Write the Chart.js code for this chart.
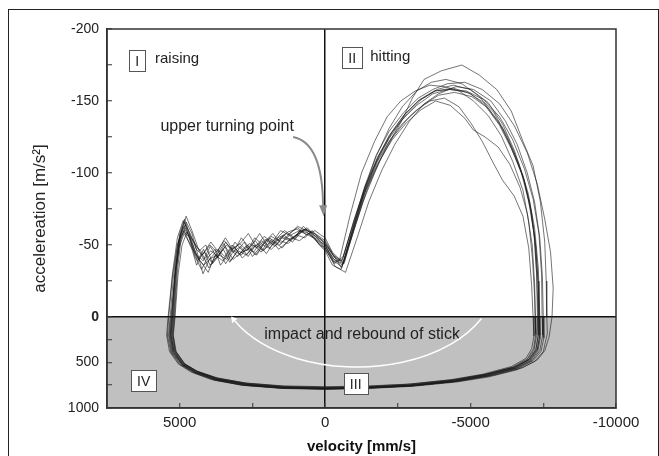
<!DOCTYPE html>
<html lang="en">
<head>
<meta charset="UTF-8" />
<title>Stick acceleration over velocity</title>
<script src="https://cdn.jsdelivr.net/npm/chart.js"></script>
<style>
  body { margin: 0; background: #fff; }
  .wrap { position: relative; width: 659px; height: 456px; overflow: hidden; }
  .frame { position: absolute; left: 8px; top: 9px; width: 649px; height: 470px; border: 1px solid #222; border-bottom: none; pointer-events: none; }
  canvas { position: absolute; left: 0; top: 0; }
</style>
</head>
<body>
<div class="wrap">
  <canvas id="loopChart" width="659" height="456"></canvas>
  <div class="frame"></div>
</div>
<script>
  // axis ticks (acceleration axis is broken at 0)
  const yMajorTicks = [-200, -150, -100, -50, 0, 500, 1000];
  const yMinorTicks = [-175, -125, -75, -25, 250, 750];
  const xMajorTicks = [5000, 0, -5000, -10000];
  const xMinorTicks = [2500, -2500, -7500];

  const phaseTags = ['I', 'II', 'III', 'IV'];
  const phaseNames = ['raising', 'hitting'];
  const noteTurning = 'upper turning point';
  const noteImpact = 'impact and rebound of stick';

  // one loop per stroke: [velocity mm/s, acceleration m/s^2]
  const loop01 = [[0,-50],[-300,-38],[-600,-40],[-1000,-68],[-1400,-92],[-1800,-110],[-2200,-126],[-2700,-140],[-3200,-150],[-3800,-157],[-4400,-159],[-5000,-155],[-5500,-147],[-6000,-133],[-6400,-117],[-6800,-98],[-7050,-78],[-7200,-55],[-7280,-28],[-7320,0],[-7330,200],[-7250,360],[-7000,470],[-6500,560],[-5500,640],[-4500,700],[-3000,750],[-1500,772],[0,780],[1500,770],[2800,735],[3800,680],[4500,600],[4900,520],[5200,380],[5300,200],[5250,0],[5150,-30],[5000,-52],[4800,-62],[4550,-50],[4350,-40],[4150,-45],[3900,-38],[3650,-46],[3450,-42],[3200,-50],[2950,-44],[2650,-47],[2400,-53],[2150,-46],[1850,-51],[1500,-55],[1200,-53],[900,-59],[600,-61],[350,-56],[150,-52],[0,-50]];
  const loop02 = [[0,-46],[-250,-36],[-550,-33],[-900,-55],[-1300,-80],[-1700,-100],[-2100,-118],[-2600,-135],[-3000,-152],[-3400,-165],[-4000,-171],[-4700,-175],[-5300,-168],[-5900,-158],[-6400,-143],[-6800,-122],[-7150,-105],[-7400,-80],[-7550,-52],[-7600,-25],[-7620,0],[-7640,180],[-7500,380],[-7200,490],[-6600,580],[-5600,660],[-4500,715],[-3000,762],[-1500,785],[0,795],[1500,785],[2800,752],[3800,695],[4500,615],[5000,520],[5300,390],[5420,210],[5380,0],[5250,-28],[5080,-50],[4900,-60],[4650,-55],[4480,-42],[4250,-33],[4050,-41],[3780,-47],[3600,-36],[3300,-44],[3100,-52],[2800,-45],[2550,-49],[2250,-58],[2000,-50],[1700,-54],[1400,-60],[1050,-55],[750,-63],[450,-57],[200,-50],[0,-46]];
  const loop03 = [[0,-52],[-300,-42],[-650,-37],[-1000,-62],[-1400,-88],[-1800,-108],[-2200,-122],[-2600,-133],[-3100,-143],[-3600,-150],[-4100,-152],[-4600,-146],[-5000,-135],[-5400,-122],[-5780,-107],[-6100,-95],[-6500,-84],[-6800,-70],[-7000,-48],[-7100,-22],[-7150,0],[-7180,210],[-7100,350],[-6900,455],[-6400,545],[-5400,630],[-4300,690],[-2800,740],[-1300,765],[0,772],[1400,762],[2700,728],[3700,670],[4400,595],[4850,510],[5150,370],[5230,190],[5180,0],[5080,-32],[4950,-55],[4780,-66],[4580,-58],[4400,-45],[4200,-30],[3980,-40],[3720,-43],[3480,-51],[3250,-39],[3000,-46],[2700,-43],[2450,-50],[2200,-45],[1900,-55],[1600,-47],[1300,-52],[1000,-57],[700,-55],[450,-60],[200,-55],[0,-52]];
  const loop04 = [[0,-48],[-350,-35],[-700,-31],[-1100,-55],[-1500,-80],[-1950,-102],[-2400,-120],[-2900,-136],[-3400,-148],[-3900,-155],[-4500,-160],[-5100,-158],[-5700,-150],[-6200,-136],[-6600,-120],[-6950,-100],[-7200,-80],[-7380,-55],[-7470,-28],[-7500,0],[-7520,230],[-7420,380],[-7150,480],[-6600,570],[-5600,650],[-4400,712],[-2900,758],[-1400,780],[0,788],[1400,778],[2700,745],[3700,690],[4400,612],[4900,528],[5250,390],[5360,200],[5300,0],[5180,-26],[5030,-48],[4850,-58],[4620,-50],[4420,-36],[4230,-44],[4000,-34],[3800,-40],[3500,-47],[3280,-38],[3050,-45],[2780,-52],[2500,-42],[2260,-48],[2000,-54],[1720,-49],[1420,-57],[1120,-52],[850,-60],[560,-58],[280,-53],[0,-48]];
  const loop05 = [[0,-55],[-250,-45],[-500,-40],[-850,-70],[-1250,-100],[-1700,-122],[-2130,-139],[-2600,-150],[-3100,-157],[-3600,-161],[-4100,-160],[-4600,-157],[-5100,-150],[-5600,-140],[-6050,-126],[-6450,-108],[-6800,-88],[-7000,-66],[-7130,-40],[-7200,-15],[-7220,0],[-7240,190],[-7170,345],[-6950,460],[-6450,550],[-5500,632],[-4400,694],[-2900,745],[-1400,768],[0,775],[1400,766],[2700,732],[3700,676],[4400,598],[4850,515],[5150,375],[5250,195],[5200,0],[5100,-34],[4960,-58],[4780,-70],[4580,-60],[4370,-48],[4180,-40],[3950,-49],[3700,-41],[3420,-52],[3150,-45],[2880,-55],[2600,-48],[2350,-43],[2080,-52],[1800,-58],[1520,-51],[1230,-58],[950,-62],[650,-57],[350,-60],[150,-57],[0,-55]];
  const loop06 = [[0,-49],[-300,-40],[-600,-36],[-950,-60],[-1350,-86],[-1800,-106],[-2300,-123],[-2800,-135],[-3300,-144],[-3800,-150],[-4300,-147],[-4800,-138],[-5090,-130],[-5500,-125],[-5950,-118],[-6350,-106],[-6700,-90],[-6950,-72],[-7120,-50],[-7200,-24],[-7230,0],[-7260,220],[-7180,365],[-6950,470],[-6450,556],[-5450,636],[-4350,698],[-2850,748],[-1350,772],[0,782],[1350,772],[2650,740],[3650,684],[4350,606],[4800,522],[5120,385],[5220,205],[5160,0],[5060,-29],[4920,-50],[4750,-59],[4550,-53],[4330,-46],[4100,-50],[3870,-37],[3640,-43],[3380,-40],[3120,-49],[2850,-41],[2580,-46],[2300,-51],[2020,-44],[1760,-52],[1470,-48],[1180,-55],[880,-53],[580,-58],[300,-54],[120,-51],[0,-49]];
  const loop07 = [[0,-51],[-280,-43],[-580,-39],[-950,-63],[-1350,-90],[-1750,-112],[-2200,-129],[-2700,-142],[-3200,-152],[-3700,-158],[-4200,-162],[-4800,-163],[-5400,-158],[-6000,-148],[-6500,-133],[-6950,-114],[-7300,-92],[-7550,-68],[-7750,-45],[-7840,-20],[-7800,0],[-7700,220],[-7550,370],[-7300,470],[-6800,556],[-5800,640],[-4600,705],[-3100,754],[-1600,778],[0,790],[1500,781],[2900,748],[3900,688],[4600,606],[5050,515],[5350,380],[5450,200],[5400,0],[5250,-30],[5080,-55],[4880,-67],[4650,-57],[4420,-49],[4200,-44],[3930,-52],[3700,-46],[3430,-55],[3180,-47],[2920,-51],[2640,-58],[2380,-49],[2100,-56],[1820,-52],[1530,-60],[1250,-57],[950,-63],[650,-60],[380,-58],[150,-54],[0,-51]];
  const loop08 = [[0,-47],[-320,-37],[-620,-42],[-980,-66],[-1380,-90],[-1800,-111],[-2250,-127],[-2750,-141],[-3250,-151],[-3750,-157],[-4300,-158],[-4900,-156],[-5450,-149],[-5950,-136],[-6350,-120],[-6750,-100],[-7000,-80],[-7180,-58],[-7270,-30],[-7300,0],[-7320,210],[-7240,360],[-7000,468],[-6500,556],[-5500,638],[-4400,700],[-2900,752],[-1400,776],[0,784],[1400,774],[2700,740],[3700,682],[4400,604],[4850,522],[5170,382],[5270,198],[5220,0],[5120,-33],[4990,-57],[4810,-64],[4600,-50],[4390,-39],[4180,-47],[3960,-36],[3700,-42],[3430,-49],[3170,-40],[2930,-44],[2680,-50],[2400,-43],[2130,-50],[1850,-47],[1550,-53],[1270,-51],[980,-57],[690,-60],[400,-55],[180,-50],[0,-47]];
  const loop09 = [[0,-53],[-260,-44],[-560,-34],[-920,-58],[-1320,-85],[-1750,-107],[-2200,-124],[-2650,-137],[-3150,-147],[-3700,-155],[-4250,-158],[-4850,-157],[-5450,-151],[-6000,-139],[-6450,-123],[-6850,-103],[-7150,-82],[-7350,-58],[-7440,-30],[-7460,0],[-7480,200],[-7380,370],[-7120,476],[-6600,562],[-5600,644],[-4500,706],[-3000,756],[-1500,780],[0,790],[1500,780],[2800,748],[3800,690],[4500,610],[4950,524],[5280,388],[5380,205],[5330,0],[5220,-27],[5070,-51],[4890,-63],[4680,-56],[4470,-44],[4260,-38],[4020,-31],[3780,-43],[3520,-39],[3260,-47],[3000,-42],[2730,-49],[2460,-45],[2190,-53],[1900,-48],[1620,-55],[1330,-58],[1030,-54],[740,-61],[450,-59],[200,-56],[0,-53]];
  const loop10 = [[0,-50],[-300,-40],[-620,-37],[-1000,-65],[-1420,-91],[-1850,-112],[-2300,-128],[-2800,-141],[-3300,-151],[-3850,-158],[-4400,-161],[-5000,-158],[-5600,-149],[-6100,-134],[-6500,-116],[-6850,-95],[-7080,-73],[-7230,-50],[-7320,-25],[-7350,0],[-7370,220],[-7290,368],[-7050,472],[-6550,560],[-5550,642],[-4450,703],[-2950,752],[-1450,776],[0,785],[1450,776],[2750,742],[3750,685],[4450,606],[4900,521],[5220,384],[5320,200],[5270,0],[5160,-31],[5020,-54],[4840,-60],[4630,-49],[4410,-43],[4190,-39],[3940,-46],[3680,-42],[3400,-50],[3150,-46],[2880,-43],[2610,-51],[2340,-48],[2060,-54],[1790,-50],[1490,-56],[1200,-54],[900,-58],[620,-62],[330,-56],[130,-52],[0,-50]];
  const loop11 = [[0,-48],[-280,-39],[-580,-35],[-940,-60],[-1340,-88],[-1760,-112],[-2200,-131],[-2650,-146],[-3150,-157],[-3650,-163],[-4150,-165],[-4700,-162],[-5250,-154],[-5800,-142],[-6250,-126],[-6650,-107],[-6980,-86],[-7200,-62],[-7330,-34],[-7380,0],[-7400,230],[-7310,378],[-7070,478],[-6550,564],[-5550,645],[-4450,708],[-2950,758],[-1450,783],[0,792],[1450,783],[2750,750],[3750,692],[4450,612],[4900,526],[5230,390],[5330,208],[5280,0],[5170,-29],[5030,-52],[4850,-66],[4640,-58],[4430,-47],[4220,-43],[3960,-50],[3720,-45],[3470,-53],[3200,-47],[2940,-51],[2680,-46],[2420,-55],[2140,-50],[1860,-56],[1580,-53],[1290,-59],[990,-61],[700,-58],[400,-55],[170,-50],[0,-48]];
  const loop12 = [[0,-51],[-330,-41],[-650,-38],[-1050,-64],[-1450,-89],[-1880,-109],[-2330,-125],[-2850,-138],[-3350,-147],[-3900,-154],[-4450,-156],[-5050,-153],[-5600,-145],[-6100,-131],[-6500,-114],[-6850,-94],[-7100,-72],[-7250,-48],[-7330,-22],[-7360,0],[-7380,200],[-7300,352],[-7060,458],[-6560,546],[-5560,626],[-4460,686],[-2960,736],[-1460,758],[0,766],[1460,757],[2760,724],[3760,668],[4460,592],[4900,510],[5200,372],[5300,192],[5240,0],[5140,-35],[5000,-58],[4830,-68],[4620,-55],[4400,-41],[4170,-36],[3930,-41],[3680,-47],[3420,-37],[3170,-45],[2910,-49],[2650,-42],[2390,-50],[2120,-46],[1840,-54],[1560,-50],[1270,-56],[980,-59],[690,-61],[400,-57],[180,-54],[0,-51]];
  const loops = [loop01, loop02, loop03, loop04, loop05, loop06, loop07, loop08, loop09, loop10, loop11, loop12];

  // broken y axis: -200..0 takes 288px, 0..1000 only 91px
  const LOWER_SCALE = (91 / 1000) / (288 / 200);
  const toAxis = a => (a > 0 ? a * LOWER_SCALE : a);
  const fromAxis = v => (v > 0 ? v / LOWER_SCALE : v);

  const FONT = '"Liberation Sans", Arial, Helvetica, sans-serif';
  Chart.defaults.font.family = FONT;
  Chart.defaults.color = '#222';

  function tagBox(ctx, text, cx, cy, filled) {
    ctx.font = '14px ' + FONT;
    const w = Math.round(ctx.measureText(text).width + 12);
    const h = 21;
    const x0 = Math.round(cx - w / 2) + 0.5, y0 = Math.round(cy - h / 2) + 0.5;
    if (filled) { ctx.fillStyle = '#fff'; ctx.fillRect(x0, y0, w, h); }
    ctx.strokeStyle = '#555';
    ctx.lineWidth = 1;
    ctx.strokeRect(x0, y0, w, h);
    ctx.fillStyle = '#222';
    ctx.textAlign = 'center';
    ctx.textBaseline = 'middle';
    ctx.fillText(text, cx, cy + 1);
  }

  const decor = {
    id: 'decor',
    beforeDraw(chart) {
      const {ctx, chartArea: ca, scales: {y}} = chart;
      const y0 = y.getPixelForValue(0);
      ctx.save();
      ctx.fillStyle = '#c0c0c0';
      ctx.fillRect(ca.left, y0, ca.right - ca.left, ca.bottom - y0);
      ctx.restore();
    },
    afterDraw(chart) {
      const {ctx, chartArea: ca, scales: {x, y}} = chart;
      const px = v => x.getPixelForValue(v);
      const py = a => y.getPixelForValue(toAxis(a));
      ctx.save();

      // plot box
      ctx.strokeStyle = '#333';
      ctx.lineWidth = 1.5;
      ctx.strokeRect(ca.left, ca.top, ca.right - ca.left, ca.bottom - ca.top);

      // phase tags
      tagBox(ctx, phaseTags[0], px(6460), py(-178), false);
      tagBox(ctx, phaseTags[1], px(-930), py(-180), false);
      tagBox(ctx, phaseTags[2], px(-1050), py(736), true);
      tagBox(ctx, phaseTags[3], px(6240), py(703), true);

      ctx.font = '15px ' + FONT;
      ctx.fillStyle = '#222';
      ctx.textAlign = 'left';
      ctx.textBaseline = 'middle';
      ctx.fillText(phaseNames[0], px(5850), py(-179));
      ctx.fillText(phaseNames[1], px(-1550), py(-181));

      ctx.font = '16px ' + FONT;
      ctx.textAlign = 'center';
      ctx.fillText(noteTurning, px(3370), py(-132));
      ctx.fillText(noteImpact, px(-1270), py(195));

      // arrow to the upper turning point
      const ax = px(70), ay = py(-72);
      ctx.strokeStyle = '#8a8a8a';
      ctx.fillStyle = '#8a8a8a';
      ctx.lineWidth = 2;
      ctx.beginPath();
      ctx.moveTo(px(1100), py(-125));
      ctx.quadraticCurveTo(px(80), py(-121), ax, ay - 6);
      ctx.stroke();
      ctx.beginPath();
      ctx.moveTo(ax - 4, ay - 8);
      ctx.lineTo(ax + 4, ay - 8);
      ctx.lineTo(ax + 0.5, ay + 3);
      ctx.closePath();
      ctx.fill();

      // white arc: impact and rebound
      const cx = px(-1100), cy = py(-25);
      const rx = px(-5850) - cx, ry = py(550) - cy;
      const t1 = Math.asin((py(0) - cy) / ry) + 0.02;
      const t2 = Math.PI - Math.asin((py(45) - cy) / ry);
      ctx.strokeStyle = '#fff';
      ctx.fillStyle = '#fff';
      ctx.lineWidth = 1.5;
      ctx.beginPath();
      ctx.ellipse(cx, cy, rx, ry, 0, t1, t2);
      ctx.stroke();
      const ex = cx + rx * Math.cos(t2), ey = cy + ry * Math.sin(t2);
      let dx = -rx * Math.sin(t2), dy = ry * Math.cos(t2);
      const len = Math.hypot(dx, dy);
      dx /= len; dy /= len;
      ctx.beginPath();
      ctx.moveTo(ex + dx * 6, ey + dy * 6);
      ctx.lineTo(ex - dy * 3.5, ey + dx * 3.5);
      ctx.lineTo(ex + dy * 3.5, ey - dx * 3.5);
      ctx.closePath();
      ctx.fill();

      ctx.restore();
    }
  };

  const datasets = loops.map(loop => ({
    data: loop.map(([v, a]) => ({x: v, y: toAxis(a)})),
    borderColor: 'rgba(25, 25, 25, 0.6)',
    borderWidth: 1,
    pointRadius: 0,
    tension: 0,
    fill: false
  }));

  const zeroLine = c => (c.tick && c.tick.value === 0 ? '#111' : 'rgba(0,0,0,0)');

  new Chart(document.getElementById('loopChart'), {
    type: 'line',
    data: { datasets },
    options: {
      responsive: false,
      animation: false,
      events: [],
      layout: { padding: { left: 0, top: 29, right: 43, bottom: 0 } },
      plugins: { legend: { display: false }, tooltip: { enabled: false } },
      scales: {
        x: {
          type: 'linear',
          reverse: true,
          min: -10000,
          max: 7500,
          afterBuildTicks: s => { s.ticks = [...xMajorTicks, ...xMinorTicks].map(v => ({value: v})); },
          afterFit: s => { s.height = 48; },
          ticks: {
            autoSkip: false, maxRotation: 0, padding: 11, font: { size: 15 }, color: '#222',
            callback: v => (xMajorTicks.includes(v) ? String(v) : '')
          },
          grid: { drawOnChartArea: true, color: zeroLine, lineWidth: 1.5, tickColor: '#333', tickWidth: 1, tickLength: -5 },
          border: { color: '#333', width: 1.5 },
          title: { display: true, text: 'velocity [mm/s]', font: { size: 15, weight: 'bold' }, color: '#111', padding: { top: 0, bottom: 0 } }
        },
        y: {
          type: 'linear',
          reverse: true,
          min: -200,
          max: toAxis(1000),
          afterBuildTicks: s => { s.ticks = [...yMajorTicks, ...yMinorTicks].sort((a, b) => a - b).map(a => ({value: toAxis(a)})); },
          afterFit: s => { s.width = 107; },
          ticks: {
            autoSkip: false, padding: 13, color: '#222',
            font: c => ({ size: 14, weight: c.tick && c.tick.value === 0 ? 'bold' : 'normal' }),
            callback: v => { const a = Math.round(fromAxis(v)); return yMajorTicks.includes(a) ? String(a) : ''; }
          },
          grid: { drawOnChartArea: true, color: zeroLine, lineWidth: 1.5, tickColor: '#333', tickWidth: 1, tickLength: -5 },
          border: { color: '#333', width: 1.5 },
          title: { display: true, text: 'accelereation [m/s²]', font: { size: 17 }, color: '#222', padding: { top: 30, bottom: 0 } }
        }
      }
    },
    plugins: [decor]
  });
</script>
</body>
</html>
